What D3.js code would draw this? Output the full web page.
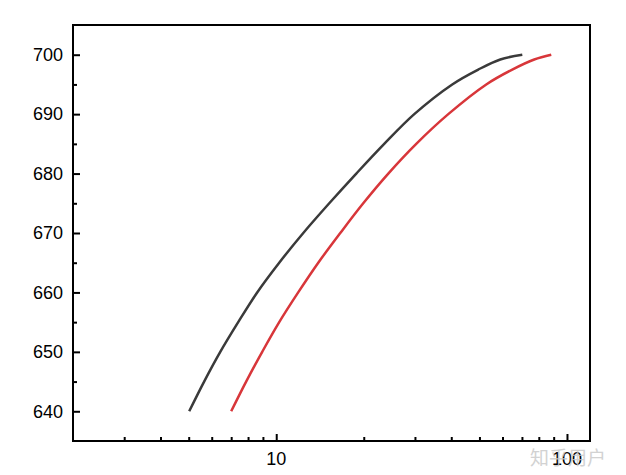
<!DOCTYPE html>
<html lang="en">
<head>
<meta charset="utf-8">
<title>curves</title>
<script src="https://d3js.org/d3.v7.min.js"></script>
<style>
  body { margin: 0; background: #fff; }
  text { font-family: "Liberation Sans", Arial, sans-serif; }
</style>
</head>
<body>
<div id="chart"></div>
<script>
// data (x on log scale)
var blackX = [5.02, 5.65, 6.42, 7.40, 8.60, 10.24, 12.39, 15.22, 18.85, 23.52, 29.84, 40.31, 49.54, 58.97, 70.2];
var blackY = [640, 645, 650, 655, 660, 665, 670, 675, 680, 685, 690, 695, 697.5, 699.2, 700];
var redX = [7.00, 7.88, 8.95, 10.24, 11.90, 13.95, 16.61, 19.92, 24.29, 30.31, 39.06, 52.77, 64.84, 77.18, 88.3];
var redY = [640, 645, 650, 655, 660, 665, 670, 675, 680, 685, 690, 695, 697.5, 699.2, 700];
var xTicks = [10, 100];
var xMinor = [3, 4, 5, 6, 7, 8, 9, 20, 30, 40, 50, 60, 70, 80, 90];
var yTicks = [640, 650, 660, 670, 680, 690, 700];
var yMinor = [645, 655, 665, 675, 685, 695];

var w = 626, h = 475;
// plot box (window.top is reserved, so use other names)
var x0 = 73, y0 = 25, x1 = 590, y1 = 441;

var svg = d3.select('#chart').append('svg')
    .attr('width', w)
    .attr('height', h);

var x = d3.scaleLog().domain([2, 120]).range([x0, x1]);
var y = d3.scaleLinear().domain([635, 705]).range([y1, y0]);

// frame
svg.append('rect')
    .attr('x', x0).attr('y', y0)
    .attr('width', x1 - x0).attr('height', y1 - y0)
    .attr('fill', 'none').attr('stroke', '#000').attr('stroke-width', 2);

// y axis, ticks pointing inward
var gy = svg.append('g').attr('transform', 'translate(' + x0 + ',0)');
gy.call(d3.axisRight(y).tickValues(yTicks).tickSize(7).tickFormat(''));
gy.select('.domain').remove();
gy.selectAll('line').attr('stroke-width', 2);
var gy2 = svg.append('g').attr('transform', 'translate(' + x0 + ',0)');
gy2.call(d3.axisRight(y).tickValues(yMinor).tickSize(4).tickFormat(''));
gy2.select('.domain').remove();
gy2.selectAll('line').attr('stroke-width', 2);
svg.append('g').selectAll('text')
    .data(yTicks).enter().append('text')
    .attr('x', x0 - 10)
    .attr('y', function (d) { return y(d); })
    .attr('dy', '0.35em')
    .attr('text-anchor', 'end')
    .attr('font-size', 18)
    .text(function (d) { return d; });

// x axis, ticks pointing inward
var gx = svg.append('g').attr('transform', 'translate(0,' + y1 + ')');
gx.call(d3.axisTop(x).tickValues(xTicks).tickSize(7).tickFormat(''));
gx.select('.domain').remove();
gx.selectAll('line').attr('stroke-width', 2);
var gx2 = svg.append('g').attr('transform', 'translate(0,' + y1 + ')');
gx2.call(d3.axisTop(x).tickValues(xMinor).tickSize(4).tickFormat(''));
gx2.select('.domain').remove();
gx2.selectAll('line').attr('stroke-width', 2);
svg.append('g').selectAll('text')
    .data(xTicks).enter().append('text')
    .attr('x', function (d) { return x(d); })
    .attr('y', y1 + 24)
    .attr('text-anchor', 'middle')
    .attr('font-size', 18)
    .text(function (d) { return d; });

// curves
var line = d3.line()
    .x(function (d) { return x(d[0]); })
    .y(function (d) { return y(d[1]); })
    .curve(d3.curveCatmullRom);

svg.append('path')
    .datum(d3.zip(blackX, blackY))
    .attr('d', line)
    .attr('fill', 'none')
    .attr('stroke', '#3a3a3a')
    .attr('stroke-width', 2.5);

svg.append('path')
    .datum(d3.zip(redX, redY))
    .attr('d', line)
    .attr('fill', 'none')
    .attr('stroke', '#d8363a')
    .attr('stroke-width', 2.5);

// watermark
svg.append('text')
    .attr('x', 530).attr('y', 465)
    .attr('font-size', 19)
    .style('font-family', '"Noto Sans CJK SC", sans-serif')
    .attr('fill', '#c8c8c8')
    .attr('opacity', 0.8)
    .text('知乎用户');
</script>
</body>
</html>
